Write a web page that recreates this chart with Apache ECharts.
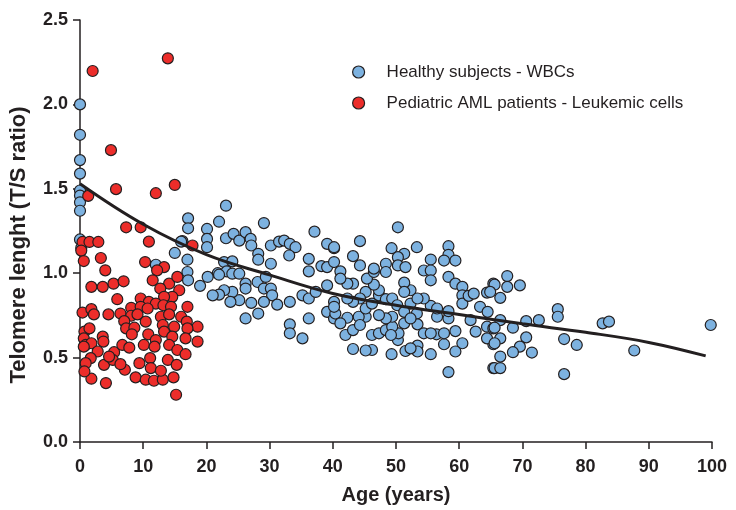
<!DOCTYPE html>
<html>
<head>
<meta charset="utf-8">
<script src="https://cdn.jsdelivr.net/npm/echarts@6/dist/echarts.min.js"></script>
<style>
  html, body { margin: 0; padding: 0; background: #ffffff; }
  #chart { width: 736px; height: 510px; }
</style>
</head>
<body>
<div id="chart"></div>
<script>
// Telomere length (T/S ratio) versus age, [age in years, T/S ratio]

// Healthy subjects, white blood cells
const healthy = [
  [0,2.0],[0,1.82],[0,1.67],[0,1.59],[0,1.49],[0,1.46],[0,1.42],[0,1.37],[0,1.2],[0.2,1.15],
  [12.0,1.05],[21.8,1.0],[16.2,1.19],
  [23.1,1.40],[17.1,1.325],[17.1,1.266],[22.0,1.305],[20.1,1.262],[20.1,1.203],[20.1,1.154],
  [16.0,1.187],[15.0,1.12],[17.0,1.08],[17.0,1.007],[17.1,0.958],[19.0,0.925],[20.2,0.978],
  [23.1,1.207],[24.3,1.233],[25.2,1.193],[26.2,1.243],[27.0,1.203],[27.1,1.164],[29.1,1.297],
  [28.2,1.115],[28.2,1.08],[30.2,1.056],[30.2,1.164],[31.5,1.187],[32.3,1.193],[33.2,1.174],
  [34.1,1.154],[33.1,1.105],[37.1,1.246],[39.1,1.174],[40.2,1.148],[36.2,1.085],[36.2,1.011],
  [38.2,1.042],[39.1,1.036],[40.2,1.066],[39.1,0.928],[22.8,1.066],[24.1,1.07],[23.2,1.011],
  [22.0,0.991],[24.1,0.997],[25.2,0.997],[26.2,0.938],[26.2,0.909],[28.1,0.948],[29.4,0.978],
  [29.1,0.909],[30.2,0.909],[30.4,0.869],[31.2,0.814],[29.1,0.830],[27.1,0.824],[25.2,0.840],
  [24.1,0.889],[22.8,0.899],[22.0,0.873],[21.0,0.869],[23.8,0.830],[26.2,0.732],[28.2,0.761],
  [33.2,0.830],[33.2,0.697],[33.2,0.644],[35.2,0.614],[36.2,0.732],[35.2,0.869],[36.2,0.850],
  [37.3,0.889],[39.1,0.771],[40.2,0.830],[40.2,0.732],
  [50.3,1.272],[44.3,1.190],[49.3,1.148],[53.3,1.154],[58.3,1.160],[58.3,1.109],[59.4,1.075],
  [57.6,1.075],[55.5,1.081],[51.3,1.115],[50.3,1.095],[50.3,1.046],[51.5,1.036],[54.4,1.016],
  [55.5,1.016],[55.5,0.958],[58.3,0.978],[59.4,0.938],[60.5,0.919],[60.5,0.869],[60.5,0.820],
  [61.5,0.866],[64.4,0.885],[65.4,0.938],[63.3,0.801],[64.5,0.771],[61.8,0.722],[62.6,0.654],
  [64.4,0.683],[65.4,0.673],[65.4,0.579],[65.4,0.438],[64.4,0.614],[60.5,0.585],[59.4,0.657],
  [58.3,0.732],[58.3,0.775],[56.5,0.742],[55.5,0.807],[54.4,0.850],[53.3,0.761],[52.3,0.899],
  [51.3,0.944],[52.3,0.820],[51.3,0.703],[53.4,0.697],[54.4,0.644],[56.4,0.638],[57.6,0.579],
  [59.4,0.536],[58.3,0.414],[55.5,0.520],[53.4,0.571],[53.4,0.536],[51.5,0.539],[50.3,0.604],
  [50.4,0.644],[49.3,0.520],[46.2,0.545],[45.2,0.542],[43.2,0.551],[46.2,0.634],[47.3,0.644],
  [48.4,0.663],[49.4,0.683],[49.4,0.742],[48.4,0.732],[47.3,0.752],[45.2,0.742],[44.1,0.742],
  [42.3,0.736],[40.4,0.761],[41.2,0.703],[42.0,0.634],[43.2,0.663],[44.3,0.693],[45.2,0.791],
  [46.2,0.820],[47.3,0.869],[48.4,0.846],[49.4,0.850],[50.2,0.810],[51.3,0.771],[52.3,0.732],
  [47.3,0.899],[46.5,0.932],[45.4,0.968],[46.5,1.007],[48.4,1.056],[48.4,1.007],[46.5,1.027],
  [44.3,1.046],[43.2,1.101],[43.2,0.938],[42.3,0.938],[41.2,1.011],[41.2,0.968],[40.2,1.154],
  [45.2,0.889],[44.3,0.850],[43.2,0.830],[42.3,0.850],[40.2,0.801],[51.3,0.889],[53.4,0.850],
  [56.5,0.791],[55.5,0.644],[57.6,0.644],[49.2,0.634],[62.3,0.879],[52.3,0.555],
  [67.6,0.983],[65.6,0.932],[67.6,0.919],[69.6,0.928],[66.5,0.854],[64.9,0.889],[75.6,0.787],
  [75.6,0.742],[70.6,0.716],[72.6,0.722],[66.5,0.722],[65.6,0.677],[68.5,0.677],[66.5,0.614],
  [65.6,0.585],[70.6,0.620],[69.6,0.565],[68.5,0.532],[71.5,0.530],[66.5,0.506],[65.6,0.438],
  [66.5,0.438],[76.6,0.610],[78.6,0.575],[76.6,0.402],[82.7,0.703],[83.7,0.713],[87.7,0.542],
  [99.8,0.693]
];

// Pediatric AML patients, leukemic cells
const aml = [
  [2.0,2.198],[13.9,2.273],[4.9,1.729],[5.7,1.498],[12.0,1.474],[15.0,1.523],[1.3,1.458],
  [7.3,1.272],[9.6,1.272],
  [0.4,1.185],[1.5,1.185],[2.9,1.185],[0.2,1.134],[0.6,1.072],[3.3,1.09],[4.0,1.017],
  [10.9,1.187],[10.3,1.066],[13.3,1.036],[12.2,1.017],[17.8,1.164],
  [1.8,0.919],[3.6,0.919],[5.3,0.938],[6.9,0.952],[5.9,0.846],[11.5,0.958],[14.1,0.938],
  [15.4,0.978],[12.7,0.909],[15.7,0.899],[14.6,0.860],[13.3,0.860],[9.6,0.850],[10.9,0.830],
  [12.0,0.820],[13.2,0.810],[14.4,0.801],[8.1,0.795],[9.6,0.801],[10.7,0.791],[17.0,0.801],
  [0.4,0.767],[1.8,0.787],[2.2,0.756],[4.5,0.756],[6.4,0.761],[8.1,0.748],[9.1,0.756],
  [10.4,0.713],[12.8,0.742],[14.1,0.756],[13.1,0.693],[16.0,0.742],[16.9,0.713],[18.6,0.683],
  [17.0,0.673],[14.9,0.683],[7.0,0.716],[7.3,0.673],[8.6,0.677],[8.2,0.638],[10.8,0.638],
  [12.0,0.604],[13.3,0.654],[14.6,0.624],[16.7,0.614],[18.6,0.595],[0.7,0.654],[1.5,0.673],
  [3.6,0.624],[3.7,0.595],[0.6,0.614],[0.9,0.575],[1.8,0.585],[0.6,0.565],[2.8,0.536],
  [5.4,0.532],[6.7,0.575],[7.8,0.559],[10.1,0.575],[11.8,0.565],[14.1,0.575],[15.4,0.545],
  [16.7,0.520],[1.7,0.497],[0.9,0.467],[3.8,0.457],[5.2,0.486],[7.1,0.428],[8.8,0.383],
  [9.4,0.467],[11.1,0.497],[11.2,0.438],[10.4,0.369],[11.7,0.363],[13.1,0.369],[12.8,0.422],
  [13.9,0.486],[15.3,0.457],[14.8,0.383],[15.2,0.280],[1.8,0.375],[0.7,0.418],[4.1,0.349],
  [4.6,0.506],[6.4,0.461]
];

// Fitted trend of T/S ratio with age
const trendAge = [0, 10, 20, 30, 40, 50, 60, 70, 80, 90, 99];
const trendTL  = [1.53, 1.29, 1.11, 0.99, 0.88, 0.81, 0.755, 0.70, 0.65, 0.59, 0.51];

const seriesNames = ['Healthy subjects - WBCs', 'Pediatric AML patients - Leukemic cells'];

const ink = '#231f20';
const fontFamily = '"Liberation Sans", Arial, Helvetica, sans-serif';

const chart = echarts.init(document.getElementById('chart'), null, { renderer: 'canvas' });

chart.setOption({
  animation: false,
  backgroundColor: '#ffffff',
  textStyle: { fontFamily: fontFamily },
  grid: { left: 79, right: 24, top: 20, bottom: 66, containLabel: false },
  legend: {
    orient: 'vertical',
    left: 347,
    top: 57,
    icon: 'circle',
    itemWidth: 12,
    itemHeight: 12,
    itemGap: 11,
    data: seriesNames,
    itemStyle: { borderColor: ink, borderWidth: 1.2 },
    textStyle: { fontSize: 17, color: ink, fontFamily: fontFamily, lineHeight: 20, padding: [0, 0, 0, 17] }
  },
  xAxis: {
    type: 'value',
    min: 0,
    max: 100,
    interval: 10,
    name: 'Age (years)',
    nameLocation: 'middle',
    nameGap: 43,
    nameTextStyle: { fontSize: 20, fontWeight: 'bold', color: ink, fontFamily: fontFamily },
    axisLine: { show: true, lineStyle: { color: ink, width: 1.5 } },
    axisTick: { show: true, length: 7, lineStyle: { color: ink, width: 1.5 } },
    axisLabel: { fontSize: 18, fontWeight: 'bold', color: ink, margin: 16, fontFamily: fontFamily },
    splitLine: { show: false }
  },
  yAxis: {
    type: 'value',
    min: 0,
    max: 2.5,
    interval: 0.5,
    name: 'Telomere lenght (T/S ratio)',
    nameLocation: 'middle',
    nameGap: 50,
    nameTextStyle: {
      fontSize: 22, fontWeight: 'bold', color: ink, fontFamily: fontFamily,
      padding: [0, 28, 0, 0]
    },
    axisLine: { show: true, lineStyle: { color: ink, width: 1.5 } },
    axisTick: { show: true, length: 7, lineStyle: { color: ink, width: 1.5 } },
    axisLabel: {
      fontSize: 18, fontWeight: 'bold', color: ink, margin: 12, fontFamily: fontFamily,
      formatter: v => v.toFixed(1)
    },
    splitLine: { show: false }
  },
  series: [
    {
      name: seriesNames[0],
      type: 'scatter',
      data: healthy,
      symbol: 'circle',
      symbolSize: 11,
      z: 2,
      itemStyle: { color: '#7db2e0', borderColor: ink, borderWidth: 1.2, opacity: 1 }
    },
    {
      name: seriesNames[1],
      type: 'scatter',
      data: aml,
      symbol: 'circle',
      symbolSize: 11,
      z: 3,
      itemStyle: { color: '#ec2d2a', borderColor: ink, borderWidth: 1.2, opacity: 1 }
    },
    {
      name: 'trend',
      type: 'line',
      data: trendAge.map((a, i) => [a, trendTL[i]]),
      smooth: 0.4,
      showSymbol: false,
      symbol: 'none',
      z: 4,
      silent: true,
      lineStyle: { color: ink, width: 3 }
    }
  ]
});
</script>
</body>
</html>
